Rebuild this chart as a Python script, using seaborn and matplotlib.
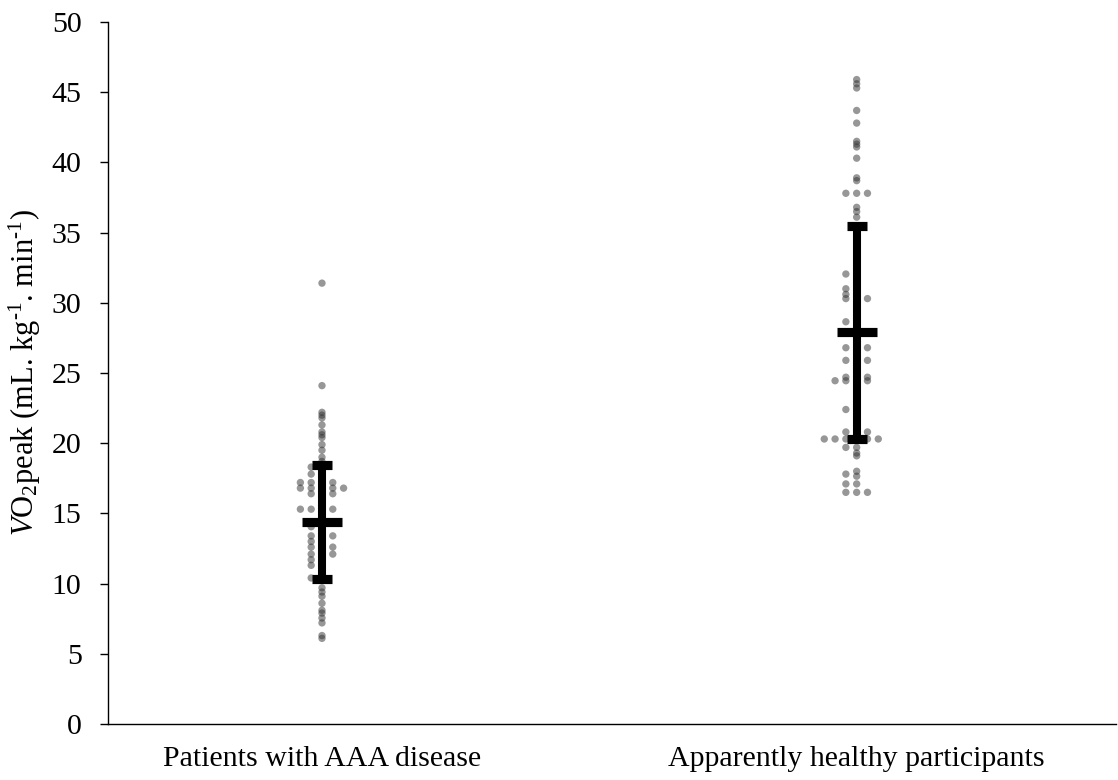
import numpy as np
import pandas as pd
import matplotlib
matplotlib.use("Agg")
import matplotlib.pyplot as plt
import seaborn as sns

# ---------------- data ----------------
categories = ["Patients with AAA disease", "Apparently healthy participants"]

aaa_values = [
    31.4, 24.1, 22.2, 22.0, 21.8, 21.3, 20.8, 20.6, 20.4, 19.9, 19.5, 19.0, 18.7,
    18.3, 18.3,
    17.8, 17.8,
    17.2, 17.2, 17.2, 17.2,
    16.8, 16.8, 16.8, 16.8, 16.8,
    16.4, 16.4, 16.4,
    15.3, 15.3, 15.3, 15.3,
    14.05, 14.05,
    13.4, 13.4, 13.4,
    13.0, 13.0,
    12.6, 12.6, 12.6,
    12.1, 12.1, 12.1,
    11.7, 11.7,
    11.3, 11.3,
    10.4, 10.4,
    9.7, 9.4, 9.1, 8.6, 8.1, 7.9, 7.55, 7.2, 6.3, 6.1,
]

healthy_values = [
    45.9, 45.6, 45.3, 43.7, 42.8, 41.5, 41.3, 41.1, 40.3, 38.9, 38.7,
    37.8, 37.8, 37.8,
    36.8, 36.5, 36.1,
    32.05, 32.05,
    31.0, 31.0,
    30.6, 30.6,
    30.3, 30.3, 30.3,
    28.65, 28.65,
    26.8, 26.8, 26.8,
    25.9, 25.9, 25.9,
    24.7, 24.7, 24.7,
    24.45, 24.45, 24.45, 24.45,
    22.4, 22.4,
    20.8, 20.8, 20.8,
    20.3, 20.3, 20.3, 20.3, 20.3, 20.3,
    19.7, 19.7,
    19.3, 19.1, 18.0, 17.8, 17.65,
    17.1, 17.1,
    16.5, 16.5, 16.5,
]

group_means = [14.4, 27.9]
group_sds = [4.05, 7.6]

y_ticks = [0, 5, 10, 15, 20, 25, 30, 35, 40, 45, 50]
y_label = r"$\mathit{V}$O$_2$peak (mL. kg$^{\text{-1}}$. min$^{\text{-1}}$)"


# ------------- dot layout (column-binned beeswarm) -------------
def column_layout(values, min_gap=0.18):
    values = np.asarray(values, dtype=float)
    order = np.argsort(values, kind="stable")
    seq = [0, -1, 1, -2, 2, -3, 3, -4, 4, -5, 5]
    placed = {}
    cols = np.zeros(len(values), dtype=int)
    for i in order:
        v = values[i]
        for c in seq:
            if all(abs(v - u) >= min_gap - 1e-9 for u in placed.get(c, [])):
                placed.setdefault(c, []).append(v)
                cols[i] = c
                break
    return cols


col_step = 0.0202
frames = []
for gi, vals in enumerate([aaa_values, healthy_values]):
    cols = column_layout(vals)
    frames.append(pd.DataFrame({
        "group": categories[gi],
        "xpos": gi + cols * col_step,
        "value": vals,
    }))
df = pd.concat(frames, ignore_index=True)

# ---------------- plot ----------------
sns.set_style("white")
plt.rcParams["font.family"] = ["Liberation Serif", "DejaVu Serif"]
plt.rcParams["mathtext.fontset"] = "custom"
plt.rcParams["mathtext.rm"] = "Liberation Serif"
plt.rcParams["mathtext.it"] = "Liberation Serif:italic"
plt.rcParams["text.color"] = "black"
plt.rcParams["axes.labelcolor"] = "black"
plt.rcParams["xtick.color"] = "black"
plt.rcParams["ytick.color"] = "black"

fig = plt.figure(figsize=(11.18, 7.8), dpi=100)
ax = fig.add_axes([108 / 1118, 56 / 780, (1116 - 108) / 1118, 702 / 780])

sns.scatterplot(data=df, x="xpos", y="value", ax=ax, color="#303030",
                alpha=0.5, s=28, edgecolor="none", linewidth=0, legend=False,
                zorder=2)

ax.errorbar(x=[0, 1], y=group_means, yerr=group_sds, fmt="_", color="black",
            ecolor="black", elinewidth=5.8, capsize=7.2, capthick=6.0,
            markersize=29.5, markeredgewidth=6.6, zorder=3)

ax.set_xlim(-0.4002, 1.485)
ax.set_ylim(0, 50)
ax.set_yticks(y_ticks)
ax.set_yticklabels([str(t) for t in y_ticks])
ax.set_xticks([0, 1])
ax.set_xticklabels(categories)
ax.set_xlabel("")
ax.set_ylabel(y_label, fontsize=22, labelpad=6, color="black")

ax.tick_params(axis="y", direction="out", length=6, width=1, colors="black",
               labelsize=21.5, pad=13, left=True)
ax.tick_params(axis="x", length=0, labelsize=21.5, pad=16, colors="black")

for side in ["top", "right"]:
    ax.spines[side].set_visible(False)
for side in ["left", "bottom"]:
    ax.spines[side].set_color("black")
    ax.spines[side].set_linewidth(1.0)
ax.grid(False)

fig.savefig("out.png", dpi=100)
